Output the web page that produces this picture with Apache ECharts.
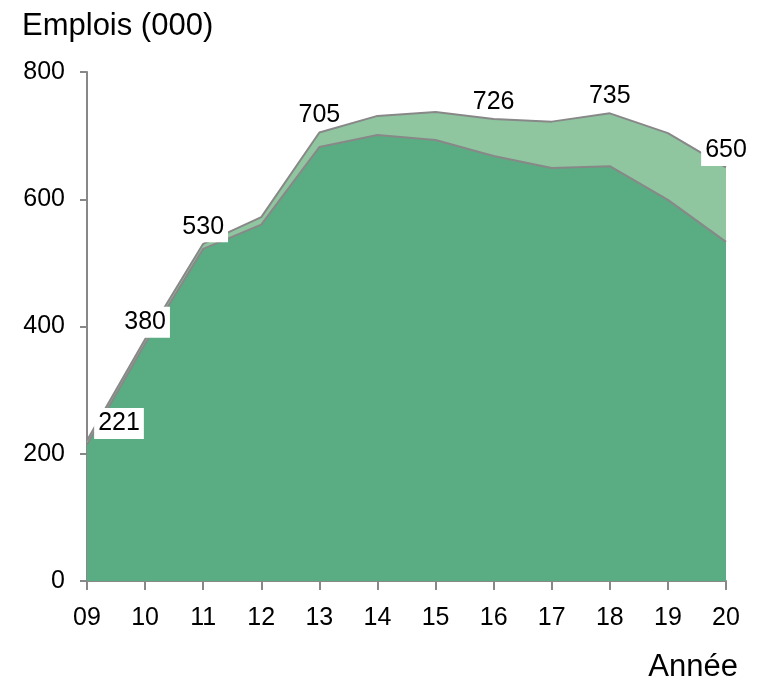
<!DOCTYPE html>
<html>
<head>
<meta charset="utf-8">
<script src="https://cdn.jsdelivr.net/npm/echarts@6/dist/echarts.min.js"></script>
<style>
  html, body { margin: 0; padding: 0; background: #fff; }
  #chart { width: 759px; height: 682px; }
</style>
</head>
<body>
<div id="chart"></div>
<script>
const years = ['09', '10', '11', '12', '13', '14', '15', '16', '17', '18', '19', '20']
// total jobs (top line) and lower component, thousands
const totalJobs = [221, 380, 530, 572, 705, 731, 737, 726, 722, 735, 704, 650]
const lowerJobs = [214, 373, 522, 560, 682, 701, 693, 668, 649, 652, 599, 533]
// which points get a value label: [x offset, white box?]
const labelSpec = { 0: [32, true], 1: [0, true], 2: [0, true], 4: [0, false], 7: [0, false], 9: [0, false], 11: [0, true] }

const font = 'Liberation Sans, Arial, sans-serif'

const chart = echarts.init(document.getElementById('chart'))

// labels drawn by their own series so the areas can't cover them
const labelData = totalJobs.map((v, i) => {
  const spec = labelSpec[i]
  if (!spec) return { value: v, label: { show: false } }
  return {
    value: v,
    label: {
      offset: [spec[0], 0],
      backgroundColor: spec[1] ? '#fff' : 'transparent'
    }
  }
})

chart.setOption({
  animation: false,
  grid: { left: 87, right: 33, top: 72, bottom: 101 },
  graphic: [
    {
      type: 'text', left: 22, top: 11,
      style: { text: 'Emplois (000)', fontSize: 31, fontFamily: font, fill: '#000' }
    },
    {
      type: 'text', right: 21, top: 652,
      style: { text: 'Année', fontSize: 31, fontFamily: font, fill: '#000' }
    }
  ],
  xAxis: {
    type: 'category',
    data: years,
    boundaryGap: false,
    axisLine: { lineStyle: { color: '#888', width: 2 } },
    axisTick: { show: true, length: 9, lineStyle: { color: '#888', width: 2 } },
    axisLabel: { color: '#000', fontSize: 25, fontFamily: font, margin: 25 },
    splitLine: { show: false }
  },
  yAxis: {
    type: 'value',
    min: 0,
    max: 800,
    interval: 200,
    axisLine: { show: true, lineStyle: { color: '#888', width: 2 } },
    axisTick: { show: true, length: 7, lineStyle: { color: '#888', width: 2 } },
    axisLabel: { color: '#000', fontSize: 25, fontFamily: font, margin: 22 },
    splitLine: { show: false }
  },
  series: [
    {
      name: 'Total',
      type: 'line',
      data: totalJobs,
      symbol: 'none',
      z: 2,
      lineStyle: { color: '#888', width: 2 },
      areaStyle: { color: '#8fc6a0', opacity: 1 }
    },
    {
      name: 'Base',
      type: 'line',
      data: lowerJobs,
      symbol: 'none',
      z: 3,
      lineStyle: { color: '#888', width: 2 },
      areaStyle: { color: '#5aad82', opacity: 1 }
    },
    {
      name: 'Labels',
      type: 'line',
      data: labelData,
      symbol: 'circle',
      symbolSize: 1,
      showSymbol: true,
      showAllSymbol: true,
      itemStyle: { color: 'rgba(0,0,0,0)' },
      lineStyle: { width: 0, color: 'rgba(0,0,0,0)' },
      z: 5,
      silent: true,
      label: {
        show: true,
        position: 'top',
        distance: 1,
        color: '#000',
        fontSize: 25,
        fontFamily: font,
        padding: [3, 4, 3, 4]
      }
    }
  ]
})
</script>
</body>
</html>
